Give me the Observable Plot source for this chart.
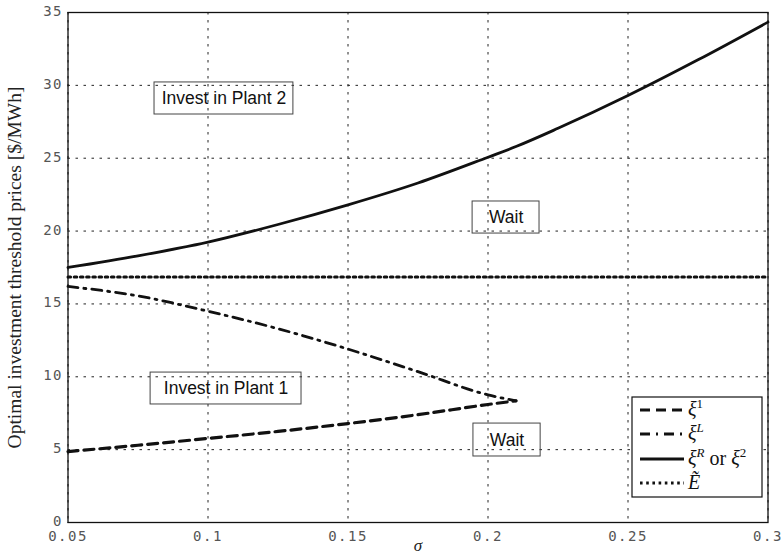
<!DOCTYPE html>
<html>
<head>
<meta charset="utf-8">
<script src="https://cdn.jsdelivr.net/npm/d3@7"></script>
<script src="https://cdn.jsdelivr.net/npm/@observablehq/plot@0.6"></script>
<style>
  html, body { margin: 0; padding: 0; background: #fff; }
  #chart svg { display: block; }
</style>
</head>
<body>
<div id="chart"></div>
<script>
// Volatility grid (sigma) for the threshold curves
const sigma = [0.05, 0.075, 0.1, 0.125, 0.15, 0.175, 0.2, 0.21, 0.225, 0.25, 0.275, 0.3];
// xi^R (or xi^2): threshold for investing in Plant 2
const xiR = [17.5, 18.3, 19.24, 20.45, 21.8, 23.3, 25.07, 25.8, 27.05, 29.3, 31.75, 34.34];

// Lower branch exists only up to sigma = 0.21
const sigmaLow = [0.05, 0.075, 0.1, 0.125, 0.15, 0.175, 0.2, 0.21];
// xi^1: threshold for investing in Plant 1
const xi1 = [4.87, 5.3, 5.77, 6.25, 6.79, 7.4, 8.1, 8.35];
// xi^L: upper limit of the Plant 1 region
const xiL = [16.2, 15.55, 14.5, 13.3, 11.9, 10.35, 8.76, 8.35];

// Constant level E~
const Etilde = 16.85;
const sigmaRange = [0.05, 0.3];

// Axis ticks
const xTicks = [0.05, 0.1, 0.15, 0.2, 0.25, 0.3];
const yTicks = [0, 5, 10, 15, 20, 25, 30, 35];

// Region labels
const regionNames = ["Invest in Plant 2", "Invest in Plant 1", "Wait", "Wait"];

// Region label boxes, in data units
const regionBoxes = [
  {x1: 0.0809, x2: 0.1305, y1: 28.0, y2: 30.2},
  {x1: 0.0795, x2: 0.1334, y1: 8.1, y2: 10.29},
  {x1: 0.1945, x2: 0.2184, y1: 19.83, y2: 22.03},
  {x1: 0.1948, x2: 0.2188, y1: 4.53, y2: 6.79}
].map((b, i) => ({...b, name: regionNames[i], cx: (b.x1 + b.x2) / 2, cy: (b.y1 + b.y2) / 2}));

const upper = sigma.map((s, i) => ({s, v: xiR[i]}));
const low1 = sigmaLow.map((s, i) => ({s, v: xi1[i]}));
const lowL = sigmaLow.map((s, i) => ({s, v: xiL[i]}));
const flat = sigmaRange.map(s => ({s, v: Etilde}));

const styles = {
  xi1: {strokeDasharray: "10,6", strokeWidth: 3.2},
  xiL: {strokeDasharray: "10,6,2,6", strokeWidth: 2.8},
  xiR: {strokeDasharray: null, strokeWidth: 2.8},
  E:   {strokeDasharray: "2.6,3.6", strokeWidth: 3}
};

const monoFont = "'DejaVu Sans Mono', monospace";
const serifFont = "'Liberation Serif', 'DejaVu Serif', serif";
const sansFont = "'Liberation Sans', Arial, sans-serif";

const plot = Plot.plot({
  width: 784,
  height: 559,
  marginLeft: 67.5,
  marginRight: 16.5,
  marginTop: 12,
  marginBottom: 37,
  x: {domain: sigmaRange, axis: null},
  y: {domain: [0, 35], axis: null},
  style: {background: "#fff"},
  marks: [
    Plot.gridX(xTicks, {stroke: "#222", strokeOpacity: 1, strokeWidth: 1, strokeDasharray: "2.5,5.5"}),
    Plot.gridY(yTicks, {stroke: "#222", strokeOpacity: 1, strokeWidth: 1, strokeDasharray: "2.5,5.5"}),
    Plot.axisX(xTicks, {
      tickSize: 0, tickPadding: 9, fontSize: 14, fontFamily: monoFont, fill: "#555",
      tickFormat: d => String(d), label: null
    }),
    Plot.axisY(yTicks, {
      tickSize: 0, tickPadding: 5, dy: -1, fontSize: 14, fontFamily: monoFont, fill: "#555",
      tickFormat: d => String(d), label: null
    }),
    Plot.rect(regionBoxes, {x1: "x1", x2: "x2", y1: "y1", y2: "y2", fill: "none", stroke: "#444", strokeWidth: 1}),
    Plot.text(regionBoxes, {x: "cx", y: "cy", text: "name", fontSize: 17.5, fontFamily: sansFont, fill: "#111"}),
    Plot.line(flat, {x: "s", y: "v", stroke: "#111", ...styles.E}),
    Plot.line(upper, {x: "s", y: "v", stroke: "#111", curve: "monotone-x", ...styles.xiR}),
    Plot.line(lowL, {x: "s", y: "v", stroke: "#111", curve: "monotone-x", ...styles.xiL}),
    Plot.line(low1, {x: "s", y: "v", stroke: "#111", curve: "monotone-x", ...styles.xi1}),
    Plot.frame({stroke: "#111", strokeWidth: 1.3}),
    Plot.text(["Optimal investment threshold prices [$/MWh]"], {
      frameAnchor: "left", textAnchor: "middle", rotate: -90, dx: -53.5,
      fontSize: 19.5, fontFamily: serifFont, fill: "#222"
    }),
    Plot.text(["σ"], {
      frameAnchor: "bottom", dy: 28, fontSize: 17, fontStyle: "italic", fontFamily: serifFont, fill: "#222"
    })
  ]
});

// letter-spaced monospace tick labels
d3.select(plot).selectAll('g[aria-label="x-axis tick label"] text, g[aria-label="y-axis tick label"] text')
  .style("letter-spacing", "1.5px");

// Legend box in the lower-right corner of the frame
const svg = d3.select(plot);
const legend = svg.append("g")
  .attr("font-family", serifFont).attr("font-size", 20).attr("fill", "#111")
  .attr("text-anchor", "start");
legend.append("rect")
  .attr("x", 632).attr("y", 397).attr("width", 130).attr("height", 100)
  .attr("fill", "#fff").attr("stroke", "#111").attr("stroke-width", 1.2);

const entries = [
  {key: "xi1", y: 410, parts: [["ξ", "i"], ["1", "sup"]]},
  {key: "xiL", y: 434, parts: [["ξ", "i"], ["L", "supi"]]},
  {key: "xiR", y: 459, parts: [["ξ", "i"], ["R", "supi"], [" or ", "n"], ["ξ", "i"], ["2", "sup"]]},
  {key: "E",   y: 483, parts: [["Ẽ", "i"]]}
];

entries.forEach(e => {
  const st = styles[e.key];
  legend.append("line")
    .attr("x1", 640).attr("x2", 684).attr("y1", e.y).attr("y2", e.y)
    .attr("stroke", "#111").attr("stroke-width", st.strokeWidth)
    .attr("stroke-dasharray", st.strokeDasharray);
  const t = legend.append("text").attr("x", 688).attr("y", e.y + 6)
    .attr("xml:space", "preserve").style("white-space", "pre");
  let raised = false;
  e.parts.forEach(([txt, kind]) => {
    const span = t.append("tspan").text(txt);
    const isSup = kind === "sup" || kind === "supi";
    if (isSup && !raised) { span.attr("dy", -8); raised = true; }
    else if (!isSup && raised) { span.attr("dy", 8); raised = false; }
    if (isSup) span.attr("font-size", 13);
    if (kind === "i" || kind === "supi") span.attr("font-style", "italic");
  });
});

document.getElementById("chart").appendChild(plot);
</script>
</body>
</html>
